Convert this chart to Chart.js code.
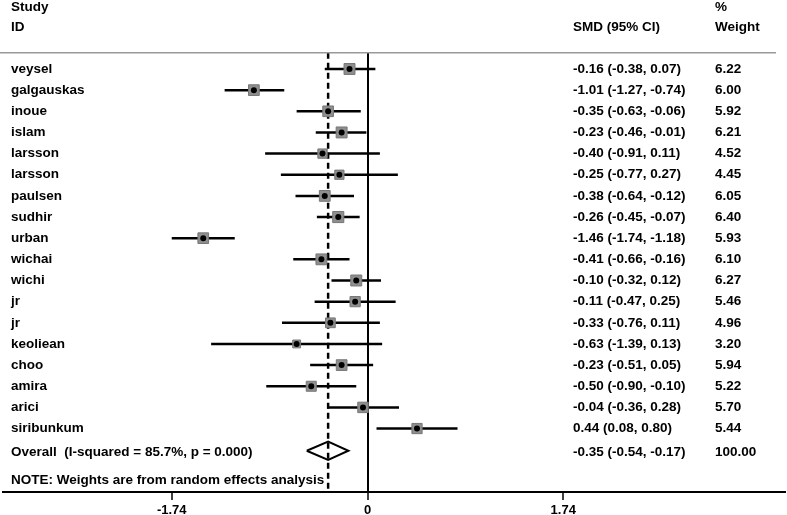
<!DOCTYPE html>
<html>
<head>
<meta charset="utf-8">
<script src="https://cdn.jsdelivr.net/npm/chart.js@4.4.1/dist/chart.umd.min.js"></script>
<style>
  html, body { margin: 0; padding: 0; background: #fff; }
  #wrap { width: 787px; height: 515px; }
</style>
</head>
<body>
<div id="wrap"><canvas id="forest" width="787" height="515"></canvas></div>
<script>
  // study data
  const studies = ["veysel", "galgauskas", "inoue", "islam", "larsson", "larsson", "paulsen", "sudhir",
    "urban", "wichai", "wichi", "jr", "jr", "keoliean", "choo", "amira", "arici", "siribunkum"];
  const smd   = [-0.16, -1.01, -0.35, -0.23, -0.40, -0.25, -0.38, -0.26, -1.46, -0.41, -0.10, -0.11, -0.33, -0.63, -0.23, -0.50, -0.04, 0.44];
  const lower = [-0.38, -1.27, -0.63, -0.46, -0.91, -0.77, -0.64, -0.45, -1.74, -0.66, -0.32, -0.47, -0.76, -1.39, -0.51, -0.90, -0.36, 0.08];
  const upper = [0.07, -0.74, -0.06, -0.01, 0.11, 0.27, -0.12, -0.07, -1.18, -0.16, 0.12, 0.25, 0.11, 0.13, 0.05, -0.10, 0.28, 0.80];
  const weights = [6.22, 6.00, 5.92, 6.21, 4.52, 4.45, 6.05, 6.40, 5.93, 6.10, 6.27, 5.46, 4.96, 3.20, 5.94, 5.22, 5.70, 5.44];

  const overallLabel = "Overall  (I-squared = 85.7%, p = 0.000)";
  const overall = { est: -0.35, lo: -0.54, hi: -0.17, weight: 100.00 };
  const noteText = "NOTE: Weights are from random effects analysis";
  const xTicks = [-1.74, 0, 1.74];

  const FONT = 'bold 13.5px "Liberation Sans", Arial, sans-serif';
  const overallRow = studies.length;      // row index of the diamond
  const noteRow = studies.length + 1.45;
  const yTop = -0.77, yBottom = 20;

  const fmt = v => v.toFixed(2);

  // one line dataset per confidence interval
  const ciSets = studies.map((s, i) => ({
    type: 'scatter',
    showLine: true,
    data: [{ x: lower[i], y: i }, { x: upper[i], y: i }],
    borderColor: '#000',
    borderWidth: 2.5,
    pointRadius: 0,
    order: 4
  }));

  const boxSet = {
    type: 'scatter',
    data: studies.map((s, i) => ({ x: smd[i], y: i })),
    pointStyle: 'rect',
    pointRadius: weights.map(w => 3.1 * Math.sqrt(w)),
    backgroundColor: '#8e8e8e',
    borderColor: '#777',
    borderWidth: 1,
    order: 3
  };

  const dotSet = {
    type: 'scatter',
    data: studies.map((s, i) => ({ x: smd[i], y: i })),
    pointStyle: 'circle',
    pointRadius: 3,
    backgroundColor: '#000',
    borderWidth: 0,
    order: 2
  };

  const diamondSet = {
    type: 'scatter',
    showLine: true,
    data: [
      { x: overall.lo, y: overallRow + 0.05 },
      { x: overall.est, y: overallRow - 0.38 },
      { x: overall.hi, y: overallRow + 0.05 },
      { x: overall.est, y: overallRow + 0.48 },
      { x: overall.lo, y: overallRow + 0.05 }
    ],
    borderColor: '#000',
    borderWidth: 2,
    pointRadius: 0,
    fill: false,
    order: 1
  };

  const dashSet = {
    type: 'scatter',
    showLine: true,
    data: [{ x: overall.est, y: yTop }, { x: overall.est, y: yBottom }],
    borderColor: '#000',
    borderWidth: 2.5,
    borderDash: [6, 4],
    pointRadius: 0,
    order: 5
  };

  // table text and header, placed with the chart's own y scale
  const textPlugin = {
    id: 'forestText',
    afterDraw(chart) {
      const ctx = chart.ctx;
      const y = chart.scales.y;
      ctx.save();
      ctx.fillStyle = '#000';
      ctx.font = FONT;
      ctx.textBaseline = 'middle';
      ctx.textAlign = 'left';
      const colId = 11, colCi = 573, colW = 715;

      ctx.fillText("Study", colId, y.getPixelForValue(-2.9));
      ctx.fillText("ID", colId, y.getPixelForValue(-1.99));
      ctx.fillText("SMD (95% CI)", colCi, y.getPixelForValue(-1.99));
      ctx.fillText("%", colW, y.getPixelForValue(-2.9));
      ctx.fillText("Weight", colW, y.getPixelForValue(-1.99));

      studies.forEach((s, i) => {
        const py = y.getPixelForValue(i);
        ctx.fillText(s, colId, py);
        ctx.fillText(`${fmt(smd[i])} (${fmt(lower[i])}, ${fmt(upper[i])})`, colCi, py);
        ctx.fillText(fmt(weights[i]), colW, py);
      });

      const po = y.getPixelForValue(overallRow + 0.1);
      ctx.fillText(overallLabel, colId, po);
      ctx.fillText(`${fmt(overall.est)} (${fmt(overall.lo)}, ${fmt(overall.hi)})`, colCi, po);
      ctx.fillText(fmt(overall.weight), colW, po);
      ctx.fillText(noteText, colId, y.getPixelForValue(noteRow));

      // grey rule under the header
      const pt = y.getPixelForValue(yTop);
      ctx.strokeStyle = '#999';
      ctx.lineWidth = 1.5;
      ctx.beginPath();
      ctx.moveTo(0, pt);
      ctx.lineTo(776, pt);
      ctx.stroke();
      ctx.restore();
    }
  };

  new Chart(document.getElementById('forest'), {
    type: 'scatter',
    data: { datasets: [dashSet, ...ciSets, boxSet, dotSet, diamondSet] },
    options: {
      responsive: false,
      animation: false,
      layout: { autoPadding: false, padding: { top: 52.7, left: 3, right: 2, bottom: 0 } },
      plugins: { legend: { display: false }, tooltip: { enabled: false } },
      scales: {
        x: {
          type: 'linear',
          min: -3.24,
          max: 3.711,
          afterBuildTicks: scale => { scale.ticks = xTicks.map(v => ({ value: v })); },
          afterFit: scale => {
            scale.height = 23;
            scale.paddingLeft = 0;
            scale.paddingRight = 0;
          },
          ticks: {
            color: '#000',
            font: { family: '"Liberation Sans", Arial, sans-serif', size: 13, weight: 'bold' },
            padding: 3,
            callback: v => v === 0 ? '0' : v.toFixed(2)
          },
          grid: {
            color: c => (c.tick && c.tick.value === 0) ? '#000' : 'rgba(0,0,0,0)',
            lineWidth: 2,
            tickColor: '#000',
            tickLength: 8,
            tickWidth: 1.5
          },
          border: { display: true, color: '#000', width: 2 }
        },
        y: {
          type: 'linear',
          display: false,
          reverse: true,
          min: yTop,
          max: yBottom
        }
      }
    },
    plugins: [textPlugin]
  });
</script>
</body>
</html>
